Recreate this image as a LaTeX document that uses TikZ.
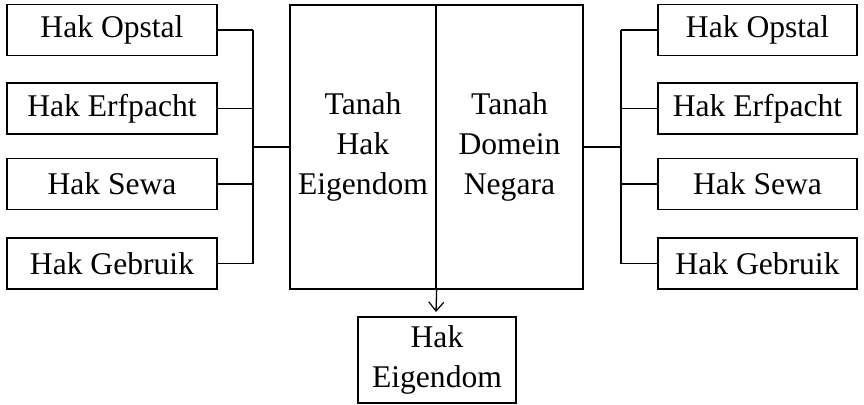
\documentclass[tikz,border=0pt]{standalone}
\usepackage{fontspec}
\setmainfont{Liberation Serif}
\usetikzlibrary{arrows.meta}
\begin{document}
\begin{tikzpicture}[x=1pt,y=-1pt,
  every node/.style={font=\fontsize{31.6}{40}\selectfont, align=center, inner sep=0pt},
  rightbox/.style={draw, line width=1.3pt, minimum height=51pt},
  sidebox/.style={rightbox, minimum width=210pt},
  sidebox2/.style={rightbox, minimum width=199pt},
  halfbox/.style={draw, line width=1.3pt, minimum height=284pt},
  link/.style={line width=1.3pt},
  pointer/.style={line width=1.3pt, -{Straight Barb[length=9pt,width=15pt,line width=1.2pt]}}]
\useasboundingbox (0,0) rectangle (864,404);

% left column of rights
\node[sidebox] (l1) at (112,30) {Hak Opstal};
\node[sidebox] (l2) at (112,108.5) {Hak Erfpacht};
\node[sidebox] (l3) at (112,184) {Hak Sewa};
\node[sidebox] (l4) at (112,263.5) {Hak Gebruik};

% central land block, split in two halves
\node[halfbox, minimum width=146pt] (eig) at (363,147) {Tanah\\Hak\\Eigendom};
\node[halfbox, minimum width=147pt] (dom) at (509.5,147) {Tanah\\Domein\\Negara};

% right column of rights
\node[sidebox2] (r1) at (757.5,30) {Hak Opstal};
\node[sidebox2] (r2) at (757.5,108.5) {Hak Erfpacht};
\node[sidebox2] (r3) at (757.5,184) {Hak Sewa};
\node[sidebox2] (r4) at (757.5,263.5) {Hak Gebruik};

% resulting right
\node[rightbox, minimum width=158pt, minimum height=86pt] (res) at (437,360) {Hak\\Eigendom};

% left bus
\coordinate (lbus) at (253,147);
\foreach \n in {l1,l2,l3,l4} \draw[link] (\n.east) -- (\n.east -| lbus);
\draw[link] (l1.east -| lbus) -- (l4.east -| lbus);
\draw[link] (lbus) -- (eig.west);

% right bus
\coordinate (rbus) at (621,147);
\foreach \n in {r1,r2,r3,r4} \draw[link] (\n.west) -- (\n.west -| rbus);
\draw[link] (r1.west -| rbus) -- (r4.west -| rbus);
\draw[link] (rbus) -- (dom.east);

% arrow from the dividing line down to the result
\coordinate (tip) at (436,312);
\draw[pointer] (eig.south east) -- (tip);
\end{tikzpicture}
\end{document}
